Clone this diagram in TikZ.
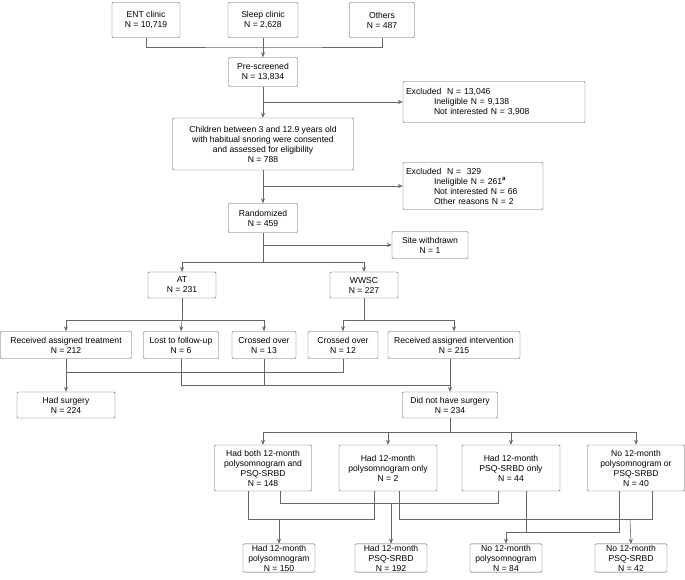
\documentclass[tikz,border=0pt]{standalone}
\usepackage{fontspec}
\setmainfont{Liberation Sans}
\usetikzlibrary{arrows.meta}
\tikzset{
  box/.style={draw=black!65, rounded corners=1pt, align=center, inner sep=1pt,
    font=\fontsize{8.6}{10}\selectfont, fill=white},
  link/.style={draw=black!60, line width=0.6pt},
  arr/.style={link, -{Stealth[length=5pt,width=4pt]}},
}
\newcommand{\bx}[5]{\node[box, minimum width=#3pt, minimum height=#4pt] (#1) at #2 {#5};}
\begin{document}
\begin{tikzpicture}[x=1pt,y=-1pt]
    \useasboundingbox (0,0) rectangle (685,580);
    % sources
    \bx{ent}{(146,20)}{68}{35}{ENT clinic\\N = 10,719}
    \bx{sleep}{(263,20)}{70}{35}{Sleep clinic\\N = 2,628}
    \bx{oth}{(382,20)}{65}{35}{Others\\N = 487}
    \bx{pre}{(263,72)}{69}{29}{Pre-screened\\N = 13,834}
    \node[box, align=left, minimum width=182pt, minimum height=41pt, text width=176pt] (exa) at (494,102)
      {Excluded\ \ N = 13,046\\\hspace*{28pt}Ineligible N = 9,138\\\hspace*{28pt}Not interested N = 3,908};
    \bx{kids}{(263,144)}{181}{52}{Children between 3 and 12.9 years old\\with habitual snoring were consented\\and assessed for eligibility\\N = 788}
    \node[box, align=left, minimum width=140pt, minimum height=47pt, text width=134pt] (exb) at (473,186)
      {Excluded\ \ N =\ \ 329\\\hspace*{28pt}Ineligible N = 261\textsuperscript{\textbf{a}}\\\hspace*{28pt}Not interested N = 66\\\hspace*{28pt}Other reasons N = 2};
    \bx{rand}{(263,218)}{69}{29}{Randomized\\N = 459}
    \bx{site}{(430,245)}{76}{27}{Site withdrawn\\N = 1}
    % arms
    \bx{at}{(182,285)}{68}{26}{AT\\N = 231}
    \bx{ww}{(364,285)}{68}{26}{WWSC\\N = 227}
    \bx{rat}{(66,345)}{131}{27}{Received assigned treatment\\N = 212}
    \bx{lost}{(181,345)}{75}{27}{Lost to follow-up\\N = 6}
    \bx{cxa}{(264,345)}{64}{27}{Crossed over\\N = 13}
    \bx{cxb}{(343,345)}{70}{27}{Crossed over\\N = 12}
    \bx{rai}{(454,345)}{132}{27}{Received assigned intervention\\N = 215}
    \bx{surg}{(66,405)}{98}{26}{Had surgery\\N = 224}
    \bx{nosurg}{(450,405)}{95}{26}{Did not have surgery\\N = 234}
    % follow-up
    \bx{both}{(263,468)}{97}{46}{Had both 12-month\\polysomnogram and\\PSQ-SRBD\\N = 148}
    \bx{psgo}{(388,468)}{98}{46}{Had 12-month\\polysomnogram only\\N = 2}
    \bx{psqo}{(511,468)}{98}{46}{Had 12-month\\PSQ-SRBD only\\N = 44}
    \bx{none}{(636,468)}{97}{46}{No 12-month\\polysomnogram or\\PSQ-SRBD\\N = 40}
    \bx{hpsg}{(279,558)}{72}{27}{Had 12-month\\polysomnogram\\N = 150}
    \bx{hpsq}{(391,558)}{72}{27}{Had 12-month\\PSQ-SRBD\\N = 192}
    \bx{npsg}{(506,558)}{72}{27}{No 12-month\\polysomnogram\\N = 84}
    \bx{npsq}{(631,558)}{72}{27}{No 12-month\\PSQ-SRBD\\N = 42}
    % connectors
    \draw[link] (ent.south) |- (263,47) -| (oth.south);
    \draw[arr] (sleep) -- (pre);
    \draw[arr] (pre) -- (kids);
    \draw[arr] (263,102) -- (exa.west |- 263,102);
    \draw[arr] (kids) -- (rand);
    \draw[arr] (263,186) -- (exb.west |- 263,186);
    \draw[arr] (263,245) -- (site.west |- 263,245);
    \draw[link] (rand.south) -- (263,262);
    \draw[arr] (263,262) -| (at.north);
    \draw[arr] (263,262) -| (ww.north);
    \draw[link] (at.south) -- (182,320);
    \draw[arr] (182,320) -| (rat.north);
    \draw[arr] (182,320) -- (lost.north);
    \draw[arr] (182,320) -| (cxa.north);
    \draw[link] (ww.south) -- (364,320);
    \draw[arr] (364,320) -| (cxb.north);
    \draw[arr] (364,320) -| (rai.north);
    \draw[arr] (rat.south) -- (surg.north);
    \draw[link] (cxb.south) |- (66,372);
    \draw[link] (lost.south) |- (450,385);
    \draw[link] (cxa.south) -- (264,385);
    \draw[arr] (rai.south -| nosurg.north) -- (nosurg.north);
    \draw[link] (nosurg.south) -- (450,432);
    \draw[arr] (450,432) -| (both.north);
    \draw[arr] (450,432) -| (psgo.north);
    \draw[arr] (450,432) -| (psqo.north);
    \draw[arr] (450,432) -| (none.north);
    \draw[link] (both.south -| 248,0) |- (374,519) -- (psgo.south -| 374,0);
    \draw[arr] (279,519) -- (hpsg.north);
    \draw[link] (both.south -| 280,0) |- (498,503) -- (psqo.south -| 498,0);
    \draw[arr] (391,503) -- (hpsq.north);
    \draw[link] (psgo.south -| 399,0) |- (652,519) -- (none.south -| 652,0);
    \draw[arr] (630,519) -- (npsq.north);
    \draw[link] (psqo.south -| 526,0) -- (526,532);
    \draw[link] (none.south -| 619,0) |- (506,532);
    \draw[arr] (506,532) -- (npsg.north);
\end{tikzpicture}
\end{document}
